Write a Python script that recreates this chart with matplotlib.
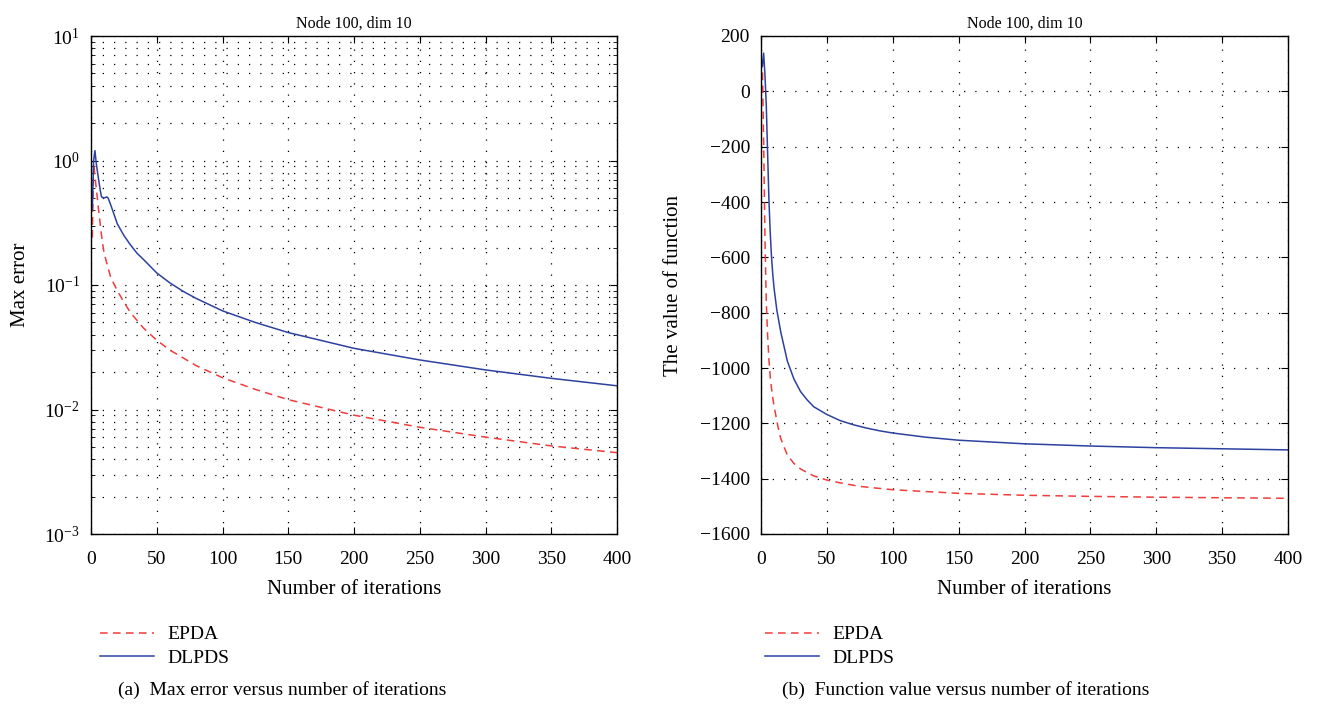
import numpy as np
import matplotlib
matplotlib.use("Agg")
import matplotlib.pyplot as plt
from matplotlib.ticker import LogLocator, NullFormatter, MultipleLocator

plt.rcParams['font.family'] = ['Liberation Serif', 'DejaVu Serif']
plt.rcParams['mathtext.fontset'] = 'custom'
plt.rcParams['mathtext.rm'] = 'Liberation Serif'
plt.rcParams['mathtext.it'] = 'Liberation Serif:italic'

# (a) max error
err_iter_blue = [1, 2, 3, 4, 5, 6, 7, 8, 10, 12, 13, 15, 20, 25, 30, 35, 40, 50, 60, 70,
                 80, 100, 125, 150, 200, 250, 300, 350, 400]
err_dlpds = [0.40, 1.0, 1.2, 0.95, 0.80, 0.68, 0.58, 0.51, 0.50, 0.51, 0.50, 0.44, 0.31,
             0.25, 0.21, 0.18, 0.16, 0.125, 0.104, 0.089, 0.078, 0.062, 0.05, 0.0415,
             0.031, 0.025, 0.0208, 0.0178, 0.0155]
err_iter_red = [1, 2, 3, 4, 5, 6, 7, 8, 9, 10, 12, 15, 20, 25, 30, 40, 50, 60, 70, 80,
                100, 125, 150, 200, 250, 300, 350, 400]
err_epda = [0.24, 0.95, 0.75, 0.6, 0.48, 0.38, 0.31, 0.25, 0.21, 0.18, 0.15, 0.115, 0.09,
            0.073, 0.06, 0.045, 0.036, 0.03, 0.026, 0.0225, 0.018, 0.0145, 0.012, 0.009,
            0.0072, 0.006, 0.0051, 0.0045]

# (b) function value
fv_iter_blue = [1, 2, 3, 4, 5, 6, 7, 8, 9, 10, 12, 15, 20, 25, 30, 35, 40, 50, 60, 70,
                80, 90, 100, 125, 150, 200, 250, 300, 350, 400]
fv_dlpds = [90, 138, 60, -50, -220, -390, -510, -600, -665, -715, -790, -870, -975, -1040,
            -1085, -1115, -1140, -1168, -1190, -1205, -1217, -1227, -1235, -1250, -1261,
            -1274, -1282, -1288, -1292, -1296]
fv_iter_red = [1, 2, 3, 4, 5, 6, 7, 8, 9, 10, 12, 13, 15, 20, 25, 30, 40, 50, 60, 75,
               100, 150, 200, 250, 300, 350, 400]
fv_epda = [115, -180, -530, -760, -880, -970, -1030, -1075, -1110, -1140, -1190, -1215,
           -1255, -1315, -1345, -1365, -1390, -1405, -1415, -1428, -1440, -1453, -1460,
           -1464, -1467, -1469, -1471]

red = '#f03c3c'
blue = '#2c41a0'

fig = plt.figure(figsize=(13.2, 7.07), dpi=100)
ax1 = fig.add_axes([91/1320, 1-534/707, 526/1320, 498/707])
ax2 = fig.add_axes([761/1320, 1-534/707, 527/1320, 498/707])


def style(ax):
    ax.tick_params(which='both', direction='in', top=True, right=True, labelsize=14)
    ax.tick_params(which='major', length=5, width=0.8)
    ax.tick_params(which='minor', length=3, width=0.6)
    ax.tick_params(axis='x', which='both', pad=12)
    ax.tick_params(axis='y', which='both', pad=8)
    for s in ax.spines.values():
        s.set_linewidth(1.0)
    ax.set_xlim(0, 400)
    ax.xaxis.set_major_locator(MultipleLocator(50))
    ax.set_xlabel('Number of iterations', fontsize=15, labelpad=9)
    ax.set_title('Node 100, dim 10', fontsize=11.5, pad=6)


gkw = dict(color='black', linestyle=(0, (1, 8)), linewidth=0.9)

# left
ax1.semilogy(err_iter_red, err_epda, '--', color=red, lw=1.1, dashes=(5, 3.5), label='EPDA')
ax1.semilogy(err_iter_blue, err_dlpds, '-', color=blue, lw=1.1, label='DLPDS')
ax1.set_ylim(1e-3, 1e1)
ax1.yaxis.set_major_locator(LogLocator(base=10, numticks=10))
ax1.yaxis.set_minor_locator(LogLocator(base=10, subs=np.arange(2, 10), numticks=10))
ax1.yaxis.set_minor_formatter(NullFormatter())
style(ax1)
ax1.grid(True, which='major', axis='both', **gkw)
ax1.grid(True, which='minor', axis='y', **gkw)
ax1.set_ylabel('Max error', fontsize=15, labelpad=10)

# right
ax2.plot(fv_iter_red, fv_epda, '--', color=red, lw=1.1, dashes=(5, 3.5), label='EPDA')
ax2.plot(fv_iter_blue, fv_dlpds, '-', color=blue, lw=1.1, label='DLPDS')
ax2.set_ylim(-1600, 200)
ax2.yaxis.set_major_locator(MultipleLocator(200))
style(ax2)
ax2.grid(True, which='major', **gkw)
ax2.set_ylabel('The value of function', fontsize=15, labelpad=12)

for ax, lx in [(ax1, 92/1320), (ax2, 757/1320)]:
    ax.legend(loc='upper left', bbox_to_anchor=(lx, 1-618/707), bbox_transform=fig.transFigure,
              frameon=False, fontsize=14, handlelength=2.8, handletextpad=0.7,
              labelspacing=0.3, borderaxespad=0)

fig.text(118/1320, 1-690/707, '(a)  Max error versus number of iterations',
         fontsize=14, va='center', ha='left')
fig.text(782/1320, 1-690/707, '(b)  Function value versus number of iterations',
         fontsize=14, va='center', ha='left')

fig.savefig('out.png', dpi=100)
